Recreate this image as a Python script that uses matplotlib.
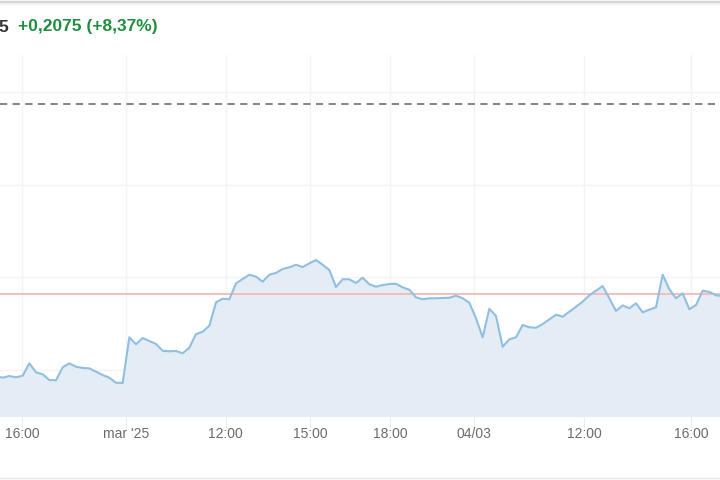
import matplotlib
matplotlib.use("Agg")
import matplotlib.pyplot as plt
from matplotlib.lines import Line2D

# price series (one point per sample, index-based axis like the original widget)
prices = [
    2.5935, 2.5917, 2.5935, 2.5921, 2.5938, 2.6072, 2.5975, 2.5954, 2.5892, 2.5889,
    2.6029, 2.6072, 2.6036, 2.6022, 2.6018, 2.5982, 2.5946, 2.5917, 2.5863, 2.5860,
    2.6353, 2.6277, 2.6345, 2.6313, 2.6281, 2.6208, 2.6202, 2.6205, 2.6180, 2.6241,
    2.6388, 2.6413, 2.6478, 2.6730, 2.6769, 2.6763, 2.6935, 2.6982, 2.7028, 2.7007,
    2.6953, 2.7028, 2.7047, 2.7090, 2.7108, 2.7136, 2.7111, 2.7151, 2.7187, 2.7136,
    2.7079, 2.6896, 2.6979, 2.6979, 2.6939, 2.6996, 2.6925, 2.6899, 2.6917, 2.6928,
    2.6931, 2.6892, 2.6866, 2.6784, 2.6763, 2.6774, 2.6774, 2.6777, 2.6780, 2.6802,
    2.6774, 2.6726, 2.6558, 2.6353, 2.6661, 2.6583, 2.6251, 2.6331, 2.6353, 2.6486,
    2.6461, 2.6456, 2.6496, 2.6547, 2.6597, 2.6575, 2.6629, 2.6683, 2.6737, 2.6806,
    2.6856, 2.6906, 2.6774, 2.6637, 2.6698, 2.6666, 2.6720, 2.6623, 2.6651, 2.6677,
    2.7028, 2.6871, 2.6774, 2.6828, 2.6655, 2.6701, 2.6856, 2.6842, 2.6806, 2.6798,
]
x_ticks = [3.97, 19.49, 34.44, 47.09, 59.09, 71.69, 88.19, 104.24]
x_labels = ["16:00", "mar '25", "12:00", "15:00", "18:00", "04/03", "12:00", "16:00"]
y_grid = [2.6, 2.7, 2.8, 2.9]
last_price = 2.682
ref_level = 2.887
x_range = (0.6, 108.6)
y_range = (2.5493, 2.9399)

price_tail = "5"
change_text = "+0,2075 (+8,37%)"

plt.rcParams['font.family'] = ['Liberation Sans', 'DejaVu Sans']

fig = plt.figure(figsize=(7.2, 4.8), dpi=100)
ax = fig.add_axes([0, 63 / 480, 1, 362 / 480])

xs = list(range(len(prices)))
ax.fill_between(xs, prices, y_range[0], color="#e4edf5", lw=0, zorder=1)
ax.plot(xs, prices, color="#90bfe0", lw=1.5, zorder=3)
ax.axhline(last_price, color="#f6b8b8", lw=1.3, zorder=2)
ax.axhline(ref_level, color="#7a7a7a", lw=1.3, ls=(0, (4, 3)), zorder=2)

ax.set_xlim(*x_range)
ax.set_ylim(*y_range)
ax.set_xticks(x_ticks)
ax.set_xticklabels(x_labels)
ax.set_yticks(y_grid)
ax.tick_params(axis="x", length=7, color="#ebebeb", labelsize=10,
               labelcolor="#6b6b6b", pad=0)
ax.tick_params(axis="y", left=False, labelleft=False)
ax.grid(True, color="#f4f4f4", lw=1)
ax.set_axisbelow(True)
for s in ax.spines.values():
    s.set_visible(False)

# header text and frame lines
fig.text(-0.002, 1 - 27 / 480, price_tail, color="#333333", fontsize=12.5,
         fontweight="bold", va="center")
fig.text(18 / 720, 1 - 27 / 480, change_text, color="#1e8e3e", fontsize=12.5,
         fontweight="bold", va="center")
fig.add_artist(Line2D([0, 1], [1 - 1.5 / 480] * 2, color="#d4d4d4", lw=2.5))
fig.add_artist(Line2D([0, 1], [1 - 4 / 480] * 2, color="#efefef", lw=1.5))
fig.add_artist(Line2D([0, 1], [2 / 480] * 2, color="#e6e6e6", lw=1))

fig.savefig("out.png", dpi=100)
